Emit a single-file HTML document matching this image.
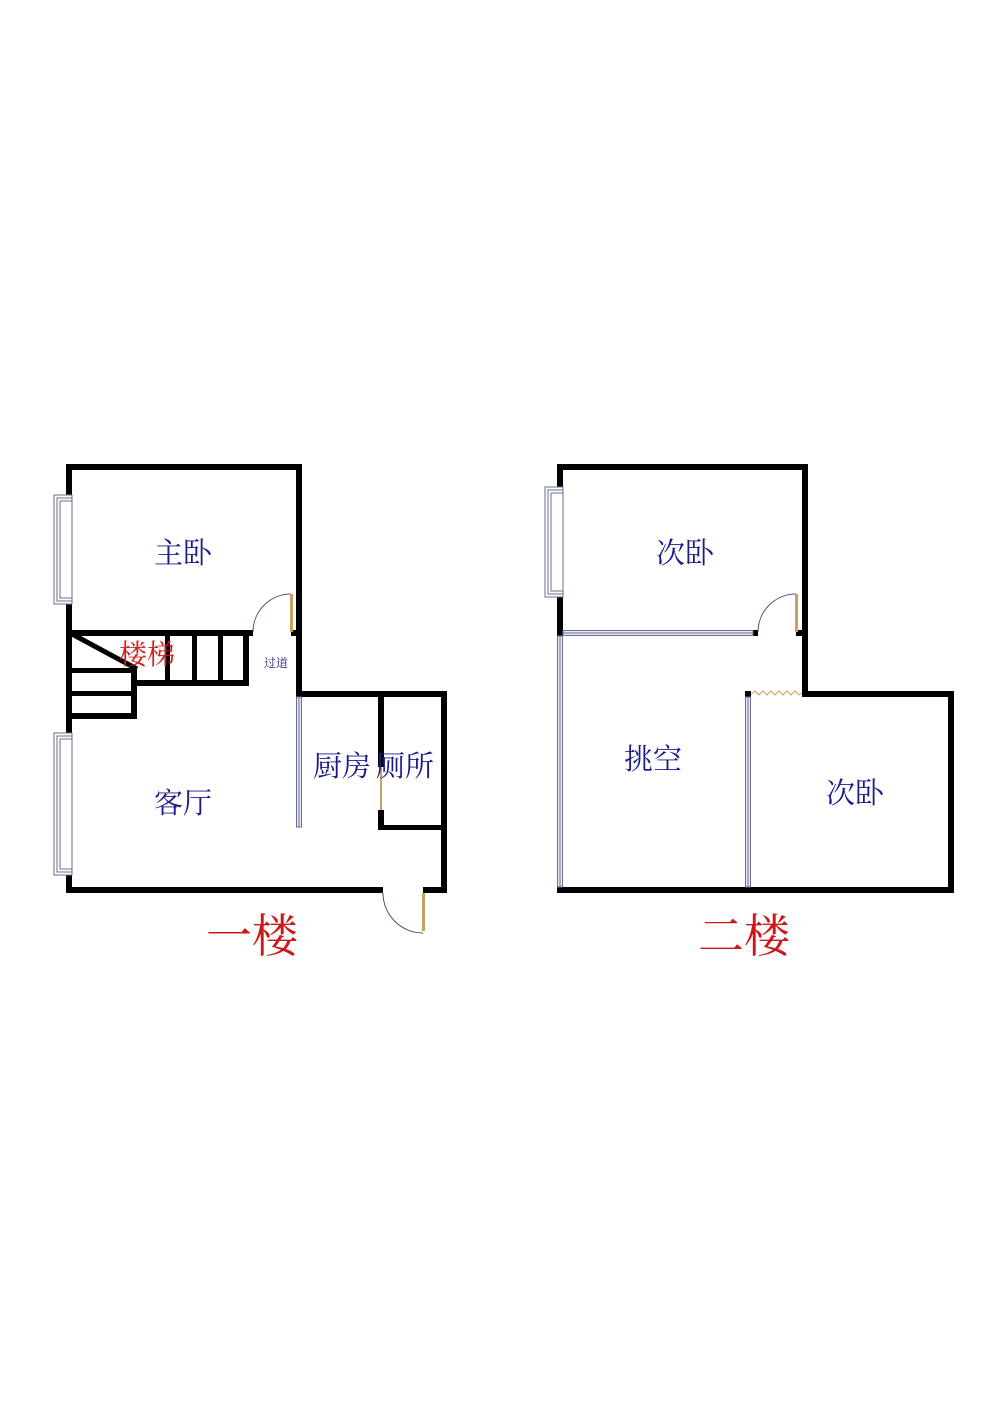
<!DOCTYPE html>
<html><head><meta charset="utf-8"><style>
html,body{margin:0;padding:0;background:#fff;}
svg{display:block;}
text{font-family:"Liberation Serif","Noto Serif CJK SC",serif;}
</style></head><body>
<svg width="1000" height="1413" viewBox="0 0 1000 1413" xmlns="http://www.w3.org/2000/svg">
<rect width="1000" height="1413" fill="#fff"/>
<g fill="#000">
<rect x="66" y="464" width="236" height="6"/>
<rect x="66" y="464" width="6" height="429"/>
<rect x="296" y="464" width="6" height="168"/>
<rect x="296" y="691" width="151" height="6"/>
<rect x="441" y="691" width="6" height="202"/>
<rect x="66" y="887" width="317" height="6"/>
<rect x="423" y="887" width="24" height="6"/>
<rect x="291" y="630" width="11" height="6"/>
<rect x="296" y="630" width="6" height="67"/>
<rect x="72" y="630" width="181" height="6"/>
<rect x="131" y="680" width="118" height="6"/>
<rect x="243" y="630" width="6" height="56"/>
<rect x="165" y="636" width="5" height="50"/>
<rect x="192" y="636" width="5" height="50"/>
<rect x="218" y="636" width="5" height="50"/>
<rect x="72" y="668" width="65" height="5"/>
<rect x="72" y="691" width="65" height="5"/>
<rect x="72" y="713" width="65" height="6"/>
<rect x="131" y="668" width="6" height="51"/>
<rect x="378" y="697" width="6" height="70"/>
<rect x="378" y="810" width="6" height="20"/>
<rect x="378" y="825" width="67" height="5"/>
<rect x="557" y="464" width="251" height="6"/>
<rect x="557" y="464" width="6" height="172"/>
<rect x="802" y="464" width="6" height="233"/>
<rect x="802" y="691" width="152" height="6"/>
<rect x="948" y="691" width="6" height="202"/>
<rect x="557" y="887" width="397" height="6"/>
<rect x="796" y="630" width="12" height="6"/>
<rect x="753" y="630" width="5" height="6"/>
<rect x="745" y="691" width="6" height="6"/>
</g>
<line x1="72" y1="634" x2="137" y2="669" stroke="#000" stroke-width="5"/>
<g fill="#fff" stroke="#6a6f90" stroke-width="1">
<rect x="54" y="495" width="18" height="109"/>
<rect x="57" y="498" width="15" height="103"/>
<rect x="60" y="501" width="12" height="97"/>
<rect x="54" y="733" width="18" height="142"/>
<rect x="57" y="736" width="15" height="136"/>
<rect x="60" y="739" width="12" height="130"/>
<rect x="545" y="487" width="18" height="110"/>
<rect x="548" y="490" width="15" height="104"/>
<rect x="551" y="493" width="12" height="98"/>
</g>
<g fill="#e8e8f0" stroke="#6a6f90" stroke-width="1">
<rect x="296.5" y="697" width="5" height="130"/>
<rect x="557.5" y="636" width="5" height="251"/>
<rect x="563" y="630.5" width="190" height="5"/>
<rect x="745.5" y="697" width="5" height="190"/>
</g>
<g stroke="#6a6f90" stroke-width="1">
<line x1="299" y1="697" x2="299" y2="827"/>
<line x1="560" y1="636" x2="560" y2="887"/>
<line x1="563" y1="633" x2="753" y2="633"/>
<line x1="748" y1="697" x2="748" y2="887"/>
</g>
<g fill="none" stroke="#4a5080" stroke-width="1">
<path d="M253 632 A38 38 0 0 1 291 594"/>
<path d="M758 632 A38 38 0 0 1 796 594"/>
<path d="M383 893 A40 40 0 0 0 423 933"/>
</g>
<g fill="#c8a060">
<rect x="290" y="594" width="3" height="38"/>
<rect x="795" y="594" width="3" height="38"/>
<rect x="422" y="893" width="3" height="38"/>
<rect x="380" y="767" width="2" height="43"/>
</g>
<polyline fill="none" stroke="#c8a060" stroke-width="1" points="751,694 755,691 759,695 763,691 767,695 771,691 775,695 779,691 783,695 787,691 791,695 795,691 799,695 802,693"/>
<g fill="#1a1a8a" font-size="29" text-anchor="middle">
<text x="183" y="563">主卧</text>
<text x="183" y="813">客厅</text>
<text x="342" y="776">厨房</text>
<text x="405" y="776">厕所</text>
<text x="685" y="563">次卧</text>
<text x="653" y="769">挑空</text>
<text x="855" y="803">次卧</text>
<text x="276" y="667" font-size="12">过道</text>
</g>
<text x="147" y="664" font-size="28" fill="#d02020" text-anchor="middle">楼梯</text>
<g fill="#cc1818" font-size="46" text-anchor="middle">
<text x="252" y="952">一楼</text>
<text x="744" y="952">二楼</text>
</g>
</svg>
</body></html>
